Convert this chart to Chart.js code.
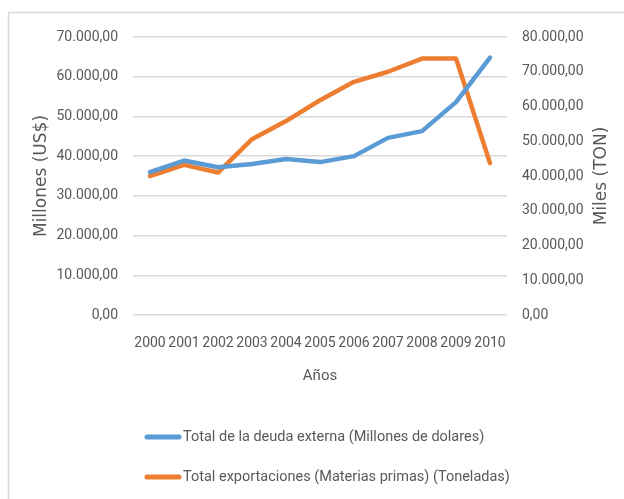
<!DOCTYPE html>
<html><head><meta charset="utf-8">
<script src="https://cdn.jsdelivr.net/npm/chart.js@4.4.1/dist/chart.umd.min.js"></script>
<style>html,body{margin:0;padding:0;background:#fff;overflow:hidden}#wrap{width:624px;height:499px;position:relative}</style>
</head><body><div id="wrap"><canvas id="c" width="624" height="499"></canvas></div>
<script>
const years = ['2000','2001','2002','2003','2004','2005','2006','2007','2008','2009','2010'];
const deudaExterna = [36000, 38900, 37200, 38000, 39300, 38500, 40000, 44600, 46300, 53600, 64800];
const exportaciones = [40000, 43200, 41000, 50600, 55800, 61800, 67100, 70000, 73800, 73800, 43700];
const leftAxisMax = 70000;
const rightAxisMax = 80000;
const tickStep = 10000;
const seriesLabels = ['Total de la deuda externa (Millones de dolares)', 'Total exportaciones (Materias primas) (Toneladas)'];
const leftTitle = 'Millones (US$)';
const rightTitle = 'Miles (TON)';
const xTitle = 'Años';

const FONT = "'Liberation Sans Narrow', Roboto, sans-serif";
const TXT = '#595959';
const BLUE = '#5b9bd5', ORANGE = '#ed7d31';

function fmt(v){
  const s = Math.round(v).toString();
  return s.replace(/\B(?=(\d{3})+(?!\d))/g, '.') + ',00';
}

const decor = {
  id: 'decor',
  beforeDraw(chart){
    const ctx = chart.ctx;
    ctx.save();
    ctx.strokeStyle = '#d9d9d9';
    ctx.lineWidth = 1.5;
    ctx.beginPath();
    ctx.moveTo(8.5, 499); ctx.lineTo(8.5, 12.5); ctx.lineTo(624, 12.5);
    ctx.stroke();
    ctx.restore();
  },
  afterDraw(chart){
    const ctx = chart.ctx;
    const ca = chart.chartArea;
    const cy = (ca.top + ca.bottom) / 2;
    ctx.save();
    ctx.fillStyle = TXT;
    ctx.font = "17px 'DejaVu Sans'";
    ctx.textAlign = 'center';
    ctx.textBaseline = 'middle';
    ctx.save(); ctx.translate(42, cy); ctx.rotate(-Math.PI/2); ctx.fillText(leftTitle, 0, 0); ctx.restore();
    ctx.save(); ctx.translate(602, cy); ctx.rotate(-Math.PI/2); ctx.fillText(rightTitle, 0, 0); ctx.restore();
    ctx.font = '15px ' + FONT;
    ctx.fillText(xTitle, (ca.left + ca.right) / 2, 376);
    // legend
    const ys = [437, 477];
    ctx.font = '14.5px ' + FONT;
    chart.data.datasets.forEach((ds, i) => {
      ctx.strokeStyle = ds.borderColor;
      ctx.lineWidth = 5;
      ctx.lineCap = 'round';
      ctx.beginPath(); ctx.moveTo(147, ys[i]); ctx.lineTo(179, ys[i]); ctx.stroke();
      ctx.fillStyle = TXT;
      ctx.textAlign = 'left';
      ctx.fillText(ds.label, 183, ys[i]);
    });
    ctx.restore();
  }
};

new Chart(document.getElementById('c'), {
  type: 'line',
  data: {
    labels: years,
    datasets: [
      { label: seriesLabels[0], data: deudaExterna, borderColor: BLUE, backgroundColor: BLUE, borderWidth: 4.5, pointRadius: 0, tension: 0, yAxisID: 'y', borderCapStyle: 'round', borderJoinStyle: 'round' },
      { label: seriesLabels[1], data: exportaciones, borderColor: ORANGE, backgroundColor: ORANGE, borderWidth: 4.5, pointRadius: 0, tension: 0, yAxisID: 'y1', borderCapStyle: 'round', borderJoinStyle: 'round' }
    ]
  },
  options: {
    responsive: false,
    animation: false,
    layout: { padding: { top: 37, left: 0, right: 0, bottom: 0 } },
    plugins: { legend: { display: false }, tooltip: { enabled: false } },
    scales: {
      x: {
        offset: true,
        grid: { display: false },
        border: { display: false },
        ticks: { color: TXT, font: { family: FONT, size: 14 }, padding: 12, maxRotation: 0, autoSkip: false },
        afterFit(s){ s.height = 184; }
      },
      y: {
        position: 'left', min: 0, max: leftAxisMax,
        grid: { color: '#d9d9d9', lineWidth: 1.5, drawTicks: false },
        border: { display: false },
        ticks: { stepSize: tickStep, color: TXT, font: { family: FONT, size: 14 }, padding: 15, callback: v => fmt(v) },
        afterFit(s){ s.width = 133; }
      },
      y1: {
        position: 'right', min: 0, max: rightAxisMax,
        grid: { display: false, drawTicks: false },
        border: { display: false },
        ticks: { stepSize: tickStep, color: TXT, font: { family: FONT, size: 14 }, padding: 15, callback: v => fmt(v) },
        afterFit(s){ s.width = 117; }
      }
    }
  },
  plugins: [decor]
});
</script>
</body></html>
